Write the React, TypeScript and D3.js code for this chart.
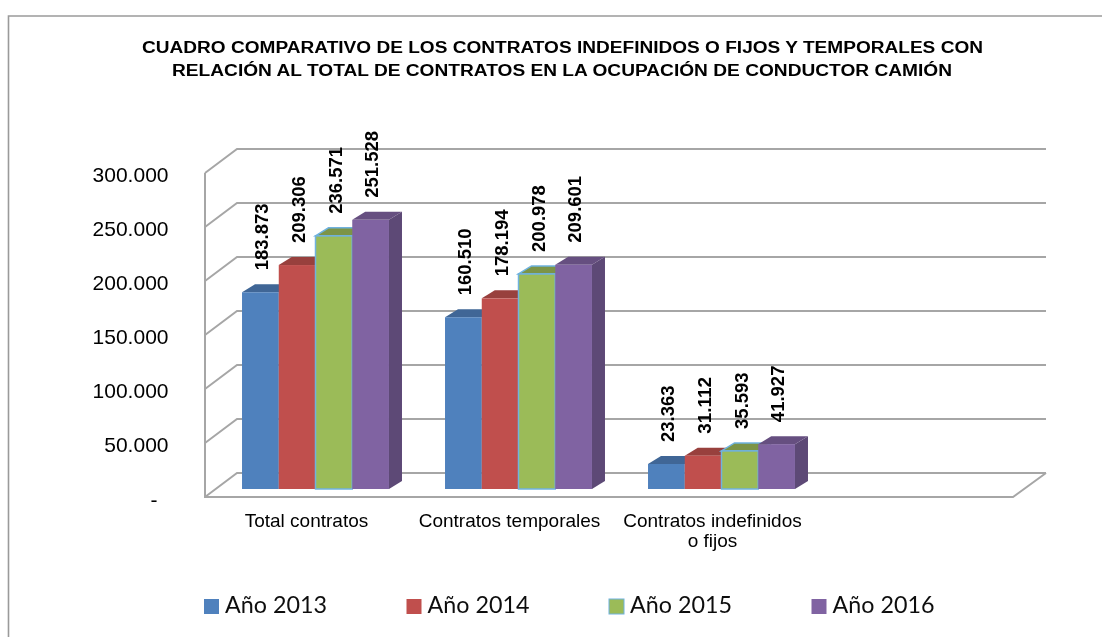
import React from "react";
import * as d3 from "d3";

const categories = ["Total contratos", "Contratos temporales", "Contratos indefinidos", ""];
const categoryExtra = ["", "", "o fijos", ""];
const years = ["Año 2013", "Año 2014", "Año 2015", "Año 2016"];
const v2013 = [183873, 160510, 23363];
const v2014 = [209306, 178194, 31112];
const v2015 = [236571, 200978, 35593];
const v2016 = [251528, 209601, 41927];
const yTicks = [0, 50000, 100000, 150000, 200000, 250000, 300000];
const titleLines = [
  "CUADRO COMPARATIVO DE LOS CONTRATOS INDEFINIDOS O FIJOS Y TEMPORALES CON",
  "RELACIÓN AL TOTAL DE CONTRATOS EN LA OCUPACIÓN DE CONDUCTOR CAMIÓN",
];
const colors = ["#4F81BD", "#C0504D", "#9BBB59", "#8064A2"];
const series = [v2013, v2014, v2015, v2016];

const fmt = (v: number) => (v === 0 ? "-" : d3.format(",")(v).replace(/,/g, "."));
const sans = "'Liberation Sans', Arial, sans-serif";
const labelLen = (s: string) => ((s.length - 1) * 0.556 + 0.278) * 18.5;

export default function App() {
  const y = d3.scaleLinear().domain([0, 300000]).range([473, 149]);
  const yBar = d3.scaleLinear().domain([0, 300000]).range([489, 168]);
  const x0 = d3.scaleBand<string>().domain(categories).range([214, 1026]).paddingInner(0.276).paddingOuter(0.138);
  const x1 = d3.scaleBand<number>().domain([0, 1, 2, 3]).range([0, x0.bandwidth()]);
  const wallDx = 32, wallDy = 24, barDx = 13, barDy = 8;
  const grid = "#A6A6A6";

  return (
    <svg width={1102} height={637} style={{ position: "absolute", left: 0, top: 0, display: "block" }}>
      <defs>
        <filter id="soft" x="-2%" y="-2%" width="104%" height="104%">
          <feGaussianBlur stdDeviation="0.45" />
        </filter>
      </defs>
      <rect width={1102} height={637} fill="#fff" />
      <path d="M8.5,637 V16 H1102" fill="none" stroke="#9a9a9a" strokeWidth={1.6} />

      <g filter="url(#soft)">
        {titleLines.map((t, i) => (
          <text key={i} x={i === 0 ? 142 : 172} y={53 + i * 22.5} fontFamily={sans} fontWeight="bold" fontSize={16.8}
            fill="#000" textLength={i === 0 ? 841 : 780} lengthAdjust="spacingAndGlyphs">{t}</text>
        ))}

        {yTicks.map((t) => (
          <path key={t} d={`M${205},${y(t) + wallDy} L${205 + wallDx},${y(t)} H1046`} fill="none" stroke={grid} strokeWidth={2} />
        ))}
        <path d={`M205,${y(300000) + wallDy} V${y(0) + wallDy} H1013 L1046,${y(0)}`} fill="none" stroke={grid} strokeWidth={2} />

        {categories.slice(0, 3).map((c, ci) =>
          series.map((s, si) => {
            const bx = x0(c)! + x1(si)!;
            const w = x1.bandwidth();
            const top = yBar(s[ci]);
            const base = yBar(0);
            const col = d3.color(colors[si])!;
            const isGreen = si === 2;
            return (
              <g key={c + si}>
                <path d={`M${bx + w},${top} l${barDx},${-barDy} V${base - barDy} l${-barDx},${barDy} Z`} fill={col.darker(0.9).toString()} />
                <path d={`M${bx},${top} l${barDx},${-barDy} h${w} l${-barDx},${barDy} Z`} fill={col.darker(0.65).toString()}
                  stroke={isGreen ? "#6FB2DF" : "none"} strokeWidth={isGreen ? 1.5 : 0} />
                <rect x={bx} y={top} width={w} height={base - top} fill={colors[si]}
                  stroke={isGreen ? "#6FB2DF" : "none"} strokeWidth={isGreen ? 1.5 : 0} />
              </g>
            );
          })
        )}

        {yTicks.map((t) => (
          <text key={t} x={t === 0 ? 157.5 : 168.5} y={y(t) + wallDy + (t === 0 ? 10 : 8.5)} textAnchor="end" fontFamily={sans} fontSize={21} fill="#000">{fmt(t)}</text>
        ))}

        {categories.slice(0, 3).map((c, ci) =>
          series.map((s, si) => {
            const cx = x0(c)! + x1(si)! + x1.bandwidth() / 2 + 1;
            const by = yBar(s[ci]) - 22;
            return (
              <text key={c + si} transform={`translate(${cx},${by}) rotate(-90)`} dy="0.36em" fontFamily={sans}
                fontWeight="bold" fontSize={19} fill="#000" textLength={labelLen(fmt(s[ci]))} lengthAdjust="spacingAndGlyphs">{fmt(s[ci])}</text>
            );
          })
        )}

        {categories.slice(0, 3).map((c, ci) => {
          const cx = x0(c)! + x0.bandwidth() / 2 - 9;
          return (
            <text key={c} textAnchor="middle" fontFamily={sans} fontSize={19} fill="#000">
              <tspan x={cx} y={527}>{c}</tspan>
              {categoryExtra[ci] && <tspan x={cx} y={547}>{categoryExtra[ci]}</tspan>}
            </text>
          );
        })}

        {years.map((yr, i) => {
          const lx = 204 + i * 202.5;
          return (
            <g key={yr}>
              <rect x={lx} y={599} width={15} height={15} fill={colors[i]} stroke={i === 2 ? "#6FB2DF" : "none"} />
              <text x={lx + 21} y={613} fontFamily="Lato, 'Open Sans', sans-serif" fontSize={24} fill="#111"
                textLength={102} lengthAdjust="spacingAndGlyphs">{yr}</text>
            </g>
          );
        })}
      </g>
    </svg>
  );
}
